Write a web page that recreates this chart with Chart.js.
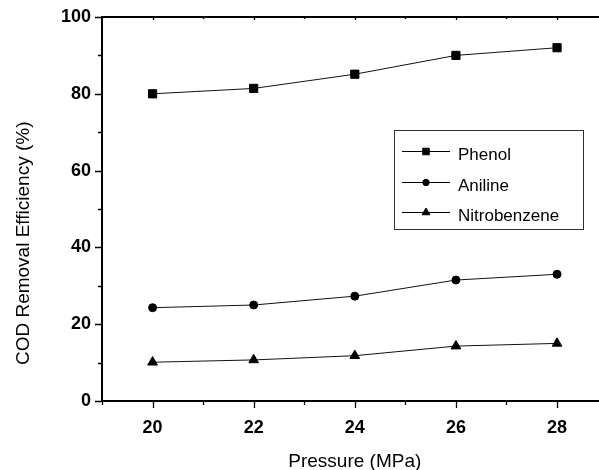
<!DOCTYPE html>
<html>
<head>
<meta charset="utf-8">
<script src="https://cdn.jsdelivr.net/npm/chart.js@4.4.1/dist/chart.umd.min.js"></script>
<style>
html, body { margin: 0; padding: 0; overflow: hidden; background: #fff; width: 599px; height: 470px; }
#wrap { position: absolute; left: 0; top: 0; width: 620px; height: 470px; }
</style>
</head>
<body>
<div id="wrap"><canvas id="c"></canvas></div>
<script>
const pressure = [20, 22, 24, 26, 28];
const phenol = [80.0, 81.4, 85.1, 90.0, 92.0];
const aniline = [24.3, 25.0, 27.3, 31.5, 33.0];
const nitrobenzene = [10.1, 10.7, 11.8, 14.3, 15.0];
const seriesNames = ['Phenol', 'Aniline', 'Nitrobenzene'];
const xTickValues = [19, 20, 21, 22, 23, 24, 25, 26, 27, 28, 29];
const xLabelValues = [20, 22, 24, 26, 28];
const yTickValues = [0, 10, 20, 30, 40, 50, 60, 70, 80, 90, 100];
const yLabelValues = [0, 20, 40, 60, 80, 100];
const xTitle = 'Pressure (MPa)';
const yTitle = 'COD Removal Efficiency (%)';

const FONT = '"Liberation Sans", Arial, Helvetica, sans-serif';

function pts(ys) { return pressure.map((x, i) => ({ x: x, y: ys[i] })); }

const styles = [
  { pointStyle: 'rect', pointRadius: 5.8 },
  { pointStyle: 'circle', pointRadius: 4.0 },
  { pointStyle: 'triangle', pointRadius: 5.6 }
];
const seriesData = [phenol, aniline, nitrobenzene];

const datasets = seriesData.map((d, i) => ({
  label: seriesNames[i],
  data: pts(d),
  borderColor: '#111',
  backgroundColor: '#000',
  borderWidth: 1,
  pointStyle: styles[i].pointStyle,
  pointRadius: styles[i].pointRadius,
  pointBackgroundColor: '#000',
  pointBorderColor: '#000',
  pointBorderWidth: 1,
  tension: 0,
  fill: false
}));

function drawMarker(ctx, style, r, x, y) {
  ctx.save();
  ctx.fillStyle = '#000';
  ctx.strokeStyle = '#000';
  ctx.lineWidth = 1;
  ctx.beginPath();
  if (style === 'rect') {
    const s = Math.SQRT1_2 * r;
    ctx.rect(x - s, y - s, 2 * s, 2 * s);
  } else if (style === 'circle') {
    ctx.arc(x, y, r, 0, Math.PI * 2);
  } else {
    let rad = 0;
    ctx.moveTo(x + Math.sin(rad) * r, y - Math.cos(rad) * r);
    rad += 2 * Math.PI / 3;
    ctx.lineTo(x + Math.sin(rad) * r, y - Math.cos(rad) * r);
    rad += 2 * Math.PI / 3;
    ctx.lineTo(x + Math.sin(rad) * r, y - Math.cos(rad) * r);
    ctx.closePath();
  }
  ctx.fill();
  ctx.stroke();
  ctx.restore();
}

const framePlugin = {
  id: 'frame',
  afterDraw(chart) {
    const ctx = chart.ctx;
    const xs = chart.scales.x, ys = chart.scales.y;
    const a = chart.chartArea;
    ctx.save();
    ctx.strokeStyle = '#000';
    ctx.lineWidth = 2;
    ctx.beginPath();
    ctx.moveTo(a.left - 1, a.top);
    ctx.lineTo(a.right + 1, a.top);
    ctx.stroke();
    ctx.lineWidth = 1.3;
    ctx.beginPath();
    xTickValues.forEach(v => {
      const px = Math.round(xs.getPixelForValue(v)) + 0.5;
      const major = xLabelValues.includes(v);
      const len = major ? 7 : 4;
      ctx.moveTo(px, a.bottom);
      ctx.lineTo(px, a.bottom + len);
      ctx.moveTo(px, a.top);
      ctx.lineTo(px, a.top + (major ? 3 : 2));
    });
    yTickValues.forEach(v => {
      const py = Math.round(ys.getPixelForValue(v)) + 0.5;
      const major = yLabelValues.includes(v);
      const len = major ? 7 : 4;
      ctx.moveTo(a.left, py);
      ctx.lineTo(a.left - len, py);
    });
    ctx.stroke();
    ctx.restore();

    const L = { left: 394.5, top: 130.5, right: 583.5, bottom: 229.5 };
    ctx.save();
    ctx.strokeStyle = '#333';
    ctx.lineWidth = 1;
    ctx.strokeRect(L.left, L.top, L.right - L.left, L.bottom - L.top);
    const rows = [151, 182, 212];
    chart.data.datasets.forEach((ds, i) => {
      const y = rows[i];
      ctx.strokeStyle = '#000';
      ctx.lineWidth = 1;
      ctx.beginPath();
      ctx.moveTo(402, y + 0.5);
      ctx.lineTo(450, y + 0.5);
      ctx.stroke();
      drawMarker(ctx, ds.pointStyle, ds.pointRadius * 0.8, 426, y + 0.5);
      ctx.fillStyle = '#000';
      ctx.font = '17px ' + FONT;
      ctx.textAlign = 'left';
      ctx.textBaseline = 'alphabetic';
      ctx.fillText(ds.label, 458, y + 9);
    });
    ctx.restore();
  }
};

new Chart(document.getElementById('c'), {
  type: 'line',
  data: { datasets: datasets },
  options: {
    responsive: true,
    maintainAspectRatio: false,
    animation: false,
    devicePixelRatio: 1,
    layout: { padding: { left: 0, top: 17, right: 12.4, bottom: 0 } },
    plugins: { legend: { display: false }, tooltip: { enabled: false } },
    scales: {
      x: {
        type: 'linear',
        min: 19,
        max: 29,
        afterBuildTicks(scale) { scale.ticks = xTickValues.map(v => ({ value: v })); },
        afterFit(scale) { scale.height = 69; },
        grid: { display: true, drawOnChartArea: false, drawTicks: true, tickLength: 7, tickColor: 'rgba(0,0,0,0)' },
        border: { display: true, color: '#000', width: 2 },
        ticks: {
          autoSkip: false,
          maxRotation: 0,
          padding: 9,
          color: '#000',
          font: { family: FONT, size: 18, weight: 'bold' },
          callback: v => (xLabelValues.includes(v) ? String(v) : '')
        },
        title: {
          display: true,
          text: xTitle,
          color: '#000',
          font: { family: FONT, size: 19, lineHeight: 0.84 },
          padding: { top: 0, bottom: 0 }
        }
      },
      y: {
        type: 'linear',
        min: 0,
        max: 100,
        afterBuildTicks(scale) { scale.ticks = yTickValues.map(v => ({ value: v })); },
        afterFit(scale) { scale.width = 102; },
        grid: { display: true, drawOnChartArea: false, drawTicks: true, tickLength: 7, tickColor: 'rgba(0,0,0,0)' },
        border: { display: true, color: '#000', width: 2 },
        ticks: {
          autoSkip: false,
          padding: 4,
          color: '#000',
          font: { family: FONT, size: 18, weight: 'bold' },
          callback: v => (yLabelValues.includes(v) ? String(v) : '')
        },
        title: {
          display: true,
          text: yTitle + '             ',
          color: '#000',
          font: { family: FONT, size: 19, lineHeight: 1 },
          padding: { top: 14.5, bottom: 0 }
        }
      }
    }
  },
  plugins: [framePlugin]
});
</script>
</body>
</html>
